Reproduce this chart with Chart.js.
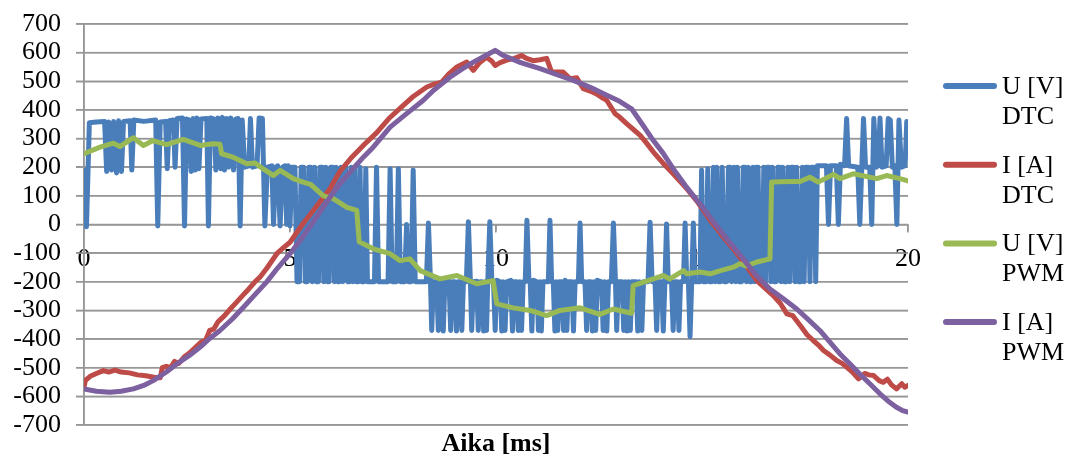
<!DOCTYPE html>
<html>
<head>
<meta charset="utf-8">
<script src="https://cdn.jsdelivr.net/npm/chart.js@4.4.1/dist/chart.umd.min.js"></script>
<style>
  html, body { margin: 0; padding: 0; background: #fff; }
</style>
</head>
<body>
<canvas id="myChart" width="1069" height="458"></canvas>
<script>
// [time ms, value] samples per series
var uDtc = [
  [0,190],[0.06,-8],[0.13,355],[0.3,358],[0.5,360],[0.55,185],[0.6,358],[0.67,190],[0.72,360],[0.79,180],
  [0.84,362],[0.91,185],[0.96,360],[1.12,362],[1.16,190],[1.21,365],[1.45,360],[1.74,365],[1.79,-5],[1.85,358],
  [1.98,360],[2.02,195],[2.07,362],[2.17,365],[2.21,200],[2.26,370],[2.39,372],[2.44,-5],[2.49,368],[2.55,365],
  [2.6,185],[2.65,370],[2.7,190],[2.74,372],[2.79,195],[2.84,368],[2.98,370],[3.02,-5],[3.07,372],[3.16,368],
  [3.2,190],[3.25,372],[3.32,195],[3.36,374],[3.41,190],[3.46,370],[3.51,200],[3.56,372],[3.63,190],[3.68,368],
  [3.74,370],[3.79,-5],[3.84,365],[3.9,200],[4.0,205],[4.04,370],[4.09,200],[4.2,205],[4.25,372],[4.33,370],
  [4.39,-5],[4.45,200],[4.56,205],[4.6,0],[4.65,200],[4.7,205],[4.76,-5],[4.82,200],[4.88,205],[4.92,0],
  [4.96,205],[5.0,-5],[5.05,200],[5.12,200],[5.17,-200],
  [5.23,-200],[5.27,200],[5.33,200],[5.37,-200],[5.42,-200],[5.46,200],[5.5,200],[5.54,-200],[5.6,200],[5.64,-200],
  [5.69,-200],[5.73,200],[5.78,200],[5.82,-200],[5.87,200],[5.91,-200],[5.95,-200],[5.99,200],[6.04,200],[6.08,-200],
  [6.12,200],[6.16,-200],[6.2,-200],[6.24,200],[6.28,-200],[6.32,200],[6.36,200],[6.4,-200],[6.45,-200],[6.49,200],
  [6.53,-200],[6.57,200],[6.61,-200],[6.66,-200],[6.7,200],[6.74,-200],[6.8,-200],[6.84,195],[6.88,-200],[7.05,-200],
  [7.1,200],[7.15,-200],[7.38,-200],[7.43,195],[7.48,-200],[7.58,-200],[7.63,195],[7.68,-200],[7.78,-200],[7.83,0],
  [7.88,-200],[7.94,-200],[7.99,190],[8.04,-200],[8.31,-200],[8.36,5],[8.41,-200],[8.44,-370],[8.48,-200],[8.56,-200],
  [8.6,-370],[8.64,-200],[8.68,-200],[8.72,-372],[8.76,-200],[8.86,-198],[8.9,-370],[8.94,-200],[9.0,-200],[9.04,-372],
  [9.08,-200],[9.13,-200],[9.17,-370],[9.21,-200],[9.28,-200],[9.33,10],[9.38,-205],[9.41,-370],[9.45,-200],[9.53,-198],
  [9.57,-370],[9.61,-200],[9.66,-200],[9.7,-372],[9.74,-200],[9.77,-370],[9.8,-200],[9.85,10],[9.9,-200],[9.94,-200],
  [9.98,-370],[10.02,-195],[10.1,-200],[10.14,-372],[10.18,-200],[10.22,-370],[10.26,-200],[10.36,-195],[10.4,-372],[10.44,-200],
  [10.5,-200],[10.54,-370],[10.58,-200],[10.62,-370],[10.66,-200],[10.71,-200],[10.75,15],[10.8,-200],[10.83,-200],[10.87,-372],
  [10.91,-195],[10.99,-200],[11.03,-370],[11.07,-200],[11.1,-372],[11.14,-200],[11.27,-200],[11.31,15],[11.35,-200],[11.39,-200],
  [11.43,-372],[11.47,-200],[11.5,-370],[11.54,-200],[11.6,-200],[11.64,-370],[11.68,-195],[11.72,-370],[11.76,-200],[11.84,-200],
  [11.88,-372],[11.92,-200],[12.0,-200],[12.04,5],[12.08,-200],[12.16,-200],[12.2,-370],[12.24,-200],[12.3,-200],[12.34,-372],
  [12.38,-200],[12.42,-370],[12.46,-195],[12.56,-200],[12.6,-370],[12.64,-200],[12.69,-372],[12.73,-200],[12.8,-200],[12.85,5],
  [12.9,-200],[12.93,-370],[12.97,-200],[13.06,-200],[13.1,-370],[13.14,-200],[13.18,-372],[13.22,-200],[13.26,-370],[13.3,-200],
  [13.4,-200],[13.44,-372],[13.48,-200],[13.54,-370],[13.58,-200],[13.69,-200],[13.74,8],[13.79,-200],[13.86,-200],[13.9,-370],
  [13.94,-200],[14.02,-200],[14.06,-372],[14.1,-200],[14.14,2],[14.18,-200],[14.26,-200],[14.3,-370],[14.34,-200],[14.4,-200],
  [14.44,-370],[14.48,-200],[14.55,-200],[14.59,5],[14.63,-200],[14.67,-200],[14.71,-392],[14.75,-200],[14.79,5],[14.83,-200],
  [14.95,-200],[14.99,190],[15.03,-200],[15.1,-200],[15.14,195],[15.18,-200],[15.24,-200],[15.28,200],[15.32,-200],[15.36,200],
  [15.4,-200],[15.45,-200],[15.49,200],[15.54,-200],[15.6,-200],[15.64,200],[15.68,200],[15.72,-200],[15.78,200],[15.82,-200],
  [15.86,200],[15.9,-200],[15.96,-200],[16.0,200],[16.04,200],[16.08,-200],[16.12,200],[16.16,-200],[16.2,-200],[16.24,200],
  [16.28,-200],[16.32,200],[16.36,200],[16.4,-200],[16.46,-200],[16.5,200],[16.54,-200],[16.58,200],[16.63,200],[16.67,-200],
  [16.71,200],[16.75,-200],[16.8,-200],[16.84,200],[16.88,200],[16.92,-200],[16.96,200],[17.0,-200],[17.05,-200],[17.09,200],
  [17.13,-200],[17.17,200],[17.22,200],[17.26,-200],[17.3,200],[17.34,-200],[17.4,-200],[17.44,200],[17.48,-200],[17.52,200],
  [17.58,200],[17.62,-200],[17.66,200],[17.72,200],[17.76,-200],[17.8,205],[18.02,205],[18.07,0],[18.12,205],[18.26,205],
  [18.31,0],[18.36,210],[18.46,205],[18.51,370],[18.56,205],[18.78,200],[18.83,0],[18.88,205],[18.92,370],[18.97,200],
  [19.07,200],[19.12,0],[19.17,370],[19.23,200],[19.28,205],[19.32,372],[19.37,200],[19.47,205],[19.52,370],[19.57,365],
  [19.62,200],[19.68,205],[19.73,0],[19.78,365],[19.84,200],[19.93,205],[19.97,360],[20,355]
];

var iDtc = [
  [0,-570],[0.03,-545],[0.15,-530],[0.3,-520],[0.47,-510],[0.6,-515],[0.75,-508],[0.9,-515],[1.1,-518],[1.3,-525],
  [1.5,-528],[1.7,-533],[1.85,-535],[1.9,-500],[2.0,-495],[2.1,-500],[2.2,-478],[2.3,-485],[2.45,-460],[2.55,-450],
  [2.7,-430],[2.85,-410],[2.95,-405],[3.05,-370],[3.15,-365],[3.25,-340],[3.4,-320],[3.55,-295],[3.7,-272],[3.87,-245],
  [4.0,-225],[4.15,-200],[4.27,-184],[4.45,-150],[4.68,-102],[4.85,-80],[5.0,-62],[5.3,0],[5.6,55],[5.97,125],
  [6.21,185],[6.5,235],[6.82,282],[7.1,320],[7.4,370],[7.75,416],[8.0,448],[8.32,480],[8.5,490],[8.68,497],
  [8.85,525],[9.05,550],[9.29,567],[9.45,538],[9.6,565],[9.77,584],[9.9,570],[9.98,555],[10.1,565],[10.26,574],
  [10.45,580],[10.62,590],[10.74,580],[10.9,572],[11.07,575],[11.23,580],[11.35,532],[11.63,532],[11.8,509],[11.96,512],
  [12.12,474],[12.3,465],[12.44,456],[12.55,445],[12.69,433],[12.89,387],[13.0,375],[13.17,352],[13.35,330],[13.5,311],
  [13.65,285],[13.82,253],[14.05,215],[14.3,177],[14.6,130],[14.91,75],[15.2,15],[15.5,-40],[15.76,-85],[16.05,-140],
  [16.33,-196],[16.55,-225],[16.73,-248],[16.9,-275],[17.06,-312],[17.2,-318],[17.4,-355],[17.55,-385],[17.7,-405],[17.82,-420],
  [17.95,-440],[18.1,-455],[18.27,-475],[18.4,-485],[18.51,-498],[18.65,-515],[18.8,-539],[18.95,-520],[19.05,-525],[19.16,-527],
  [19.3,-545],[19.4,-551],[19.5,-540],[19.6,-560],[19.72,-574],[19.85,-556],[19.92,-568],[20,-562]
];

var uPwm = [
  [0,247],[0.39,270],[0.71,284],[0.87,272],[1.2,303],[1.44,276],[1.68,293],[2.0,279],[2.41,297],[2.82,276],
  [3.14,282],[3.3,280],[3.34,247],[3.62,235],[3.95,212],[4.15,215],[4.35,194],[4.6,171],[4.76,189],[5.08,160],
  [5.32,148],[5.5,140],[5.81,100],[6.05,90],[6.38,60],[6.62,49],[6.68,-60],[7.02,-85],[7.43,-102],[7.67,-126],
  [7.91,-120],[8.16,-161],[8.64,-190],[9.05,-178],[9.53,-207],[9.93,-196],[10.02,-277],[10.42,-291],[10.83,-300],[11.23,-318],
  [11.55,-300],[12.04,-291],[12.52,-314],[12.85,-295],[13.29,-310],[13.33,-213],[13.82,-190],[14.06,-178],[14.22,-190],[14.55,-161],
  [14.63,-172],[14.95,-166],[15.2,-172],[15.45,-161],[15.76,-149],[15.92,-137],[16.08,-145],[16.33,-131],[16.65,-120],[16.69,148],
  [17.14,150],[17.38,150],[17.62,165],[17.82,148],[18.19,175],[18.35,160],[18.67,177],[19.24,160],[19.48,171],[19.8,160],
  [20,152]
];

var iPwm = [
  [0,-574],[0.3,-582],[0.63,-586],[0.9,-582],[1.2,-574],[1.45,-562],[1.68,-545],[2.0,-515],[2.25,-487],[2.55,-458],
  [2.82,-428],[3.05,-398],[3.3,-370],[3.6,-330],[3.87,-289],[4.15,-245],[4.43,-201],[4.7,-152],[5.0,-102],[5.3,-45],
  [5.57,10],[5.97,95],[6.21,142],[6.5,190],[6.78,235],[7.02,270],[7.43,340],[7.83,387],[8.23,433],[8.48,468],
  [8.88,514],[9.2,545],[9.45,567],[9.75,590],[9.98,608],[10.18,590],[10.6,565],[11.07,544],[11.5,522],[11.88,503],
  [12.3,478],[12.69,451],[13.0,430],[13.29,404],[13.55,350],[13.82,293],[14.05,250],[14.3,195],[14.6,135],[14.95,72],
  [15.3,5],[15.6,-50],[16.0,-120],[16.3,-175],[16.65,-225],[17.0,-262],[17.3,-295],[17.6,-335],[17.86,-370],[18.1,-410],
  [18.35,-452],[18.6,-488],[18.83,-522],[19.08,-557],[19.32,-591],[19.52,-617],[19.72,-638],[19.87,-650],[20,-655]
];

var seriesNames = ['U [V]\nDTC', 'I [A]\nDTC', 'U [V]\nPWM', 'I [A]\nPWM'];
var seriesColors = ['#4A7EBB', '#BE4B48', '#98B954', '#7D60A0'];
var xMin = 0, xMax = 20, xStep = 5;
var yMin = -700, yMax = 700, yStep = 100;
var xTitle = 'Aika [ms]';

function toPoints(pairs) {
  return pairs.map(function (p) { return { x: p[0], y: p[1] }; });
}

var serifFont = '"Liberation Serif", "Times New Roman", serif';
var gridGray = '#979797';

// gridlines, y axis line, zero line ticks: filled from the scales' own ticks
var axisLines = {
  id: 'axisLines',
  beforeDatasetsDraw: function (chart) {
    var ctx = chart.ctx, area = chart.chartArea;
    var xs = chart.scales.x, ys = chart.scales.y;
    var w = 1.5;
    ctx.save();
    ctx.fillStyle = gridGray;
    ys.ticks.forEach(function (t) {
      var py = ys.getPixelForValue(t.value);
      ctx.fillRect(area.left - 8, py - w / 2, area.right - area.left + 8, w);
    });
    ctx.fillRect(area.left - w / 2, area.top, w, area.bottom - area.top);
    var y0 = ys.getPixelForValue(0);
    xs.ticks.forEach(function (t) {
      var px = xs.getPixelForValue(t.value);
      ctx.fillRect(px - w / 2, y0, w, 7);
    });
    ctx.restore();
  }
};

// two-line legend on the right, drawn by hand
var sideLegend = {
  id: 'sideLegend',
  afterDraw: function (chart) {
    var ctx = chart.ctx;
    ctx.save();
    chart.data.datasets.forEach(function (ds, i) {
      var y = 86 + i * 78.7;
      ctx.strokeStyle = ds.borderColor;
      ctx.lineWidth = 6;
      ctx.lineCap = 'round';
      ctx.beginPath();
      ctx.moveTo(946, y);
      ctx.lineTo(994, y);
      ctx.stroke();
      ctx.fillStyle = '#000';
      ctx.font = '26px ' + serifFont;
      ctx.textBaseline = 'middle';
      ds.label.split('\n').forEach(function (line, k) {
        ctx.fillText(line, 1002, y + 1 + k * 30);
      });
    });
    ctx.restore();
  }
};

var series = [uDtc, iDtc, uPwm, iPwm];
var drawOrder = [4, 3, 2, 1];

var datasets = series.map(function (s, i) {
  return {
    label: seriesNames[i],
    data: toPoints(s),
    borderColor: seriesColors[i],
    backgroundColor: seriesColors[i],
    borderWidth: 5,
    borderJoinStyle: 'round',
    borderCapStyle: 'round',
    pointRadius: 0,
    tension: 0,
    fill: false,
    order: drawOrder[i]
  };
});

Chart.defaults.font.family = serifFont;
Chart.defaults.font.size = 26;
Chart.defaults.color = '#000';

var myChart = new Chart(document.getElementById('myChart'), {
  type: 'line',
  data: { datasets: datasets },
  options: {
    responsive: false,
    animation: false,
    devicePixelRatio: 1,
    layout: { padding: { left: 13, right: 161, top: 24, bottom: 1 } },
    plugins: {
      legend: { display: false },
      tooltip: { enabled: false }
    },
    scales: {
      x: {
        type: 'linear',
        position: { y: 0 },
        min: xMin,
        max: xMax,
        grid: { drawOnChartArea: false, tickLength: 7, color: gridGray, lineWidth: 1.5 },
        border: { color: gridGray, width: 1.5 },
        ticks: { padding: 12, stepSize: xStep, maxRotation: 0 }
      },
      xt: {
        type: 'linear',
        position: 'bottom',
        min: xMin,
        max: xMax,
        grid: { display: false, drawTicks: false },
        border: { display: false },
        ticks: { display: false },
        title: {
          display: true,
          text: xTitle,
          font: { weight: 'bold', lineHeight: 1 },
          padding: { top: 6, bottom: 0 }
        }
      },
      y: {
        min: yMin,
        max: yMax,
        ticks: { stepSize: yStep, padding: 15, autoSkip: false },
        grid: { color: gridGray, lineWidth: 1.5, tickLength: 8 },
        border: { color: gridGray, width: 1.5 },
        afterFit: function (axis) {
          // fixed axis width, and let the labels hang into the top/bottom margins
          axis.width = 71;
          axis.paddingTop = 0;
          axis.paddingBottom = 0;
        }
      }
    }
  },
  plugins: [axisLines, sideLegend]
});
</script>
</body>
</html>
